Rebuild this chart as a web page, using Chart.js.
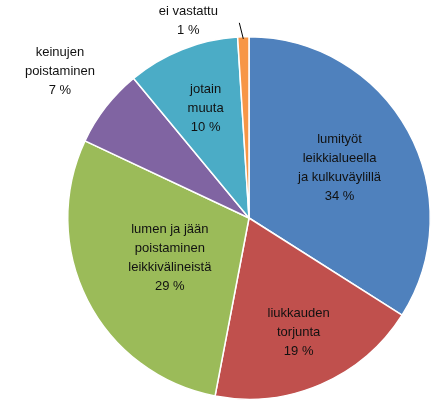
<!DOCTYPE html>
<html>
<head>
<meta charset="utf-8">
<script src="https://cdn.jsdelivr.net/npm/chart.js@4"></script>
<style>
  body { margin: 0; background: #fff; }
</style>
</head>
<body>
<canvas id="pie" width="442" height="406"></canvas>
<script>
// Chart values
const categories = [
    ["lumityöt", "leikkialueella", "ja kulkuväylillä"],
    ["liukkauden", "torjunta"],
    ["lumen ja jään", "poistaminen", "leikkivälineistä"],
    ["keinujen", "poistaminen"],
    ["jotain", "muuta"],
    ["ei vastattu"]
];
const shares = [34, 19, 29, 7, 10, 1];
const colors = ["#4F81BD", "#C0504D", "#9BBB59", "#8064A2", "#4BACC6", "#F79646"];

// label placement: fraction of radius along slice middle, extra shift
const labelPos = [
    { f: 0.57, dx: 0, dy: 0 },
    { f: 0.69, dx: 0, dy: 0 },
    { f: 0.49, dx: 0, dy: 0 },
    { f: 1.32, dx: 0, dy: 0 },
    { f: 0.65, dx: 0, dy: 0 },
    { f: 1.0, dx: -55, dy: -16, leader: true }
];

const pieLabels = {
    id: "pieLabels",
    afterDatasetsDraw(chart) {
        const ctx = chart.ctx;
        const arcs = chart.getDatasetMeta(0).data;
        ctx.save();
        ctx.font = "13px 'Liberation Sans', Arial, sans-serif";
        ctx.fillStyle = "#111";
        ctx.textAlign = "center";
        ctx.textBaseline = "middle";
        arcs.forEach((arc, i) => {
            const p = arc.getProps(["x", "y", "startAngle", "endAngle", "outerRadius"], true);
            const mid = (p.startAngle + p.endAngle) / 2;
            const r = p.outerRadius * labelPos[i].f;
            let x = p.x + Math.cos(mid) * r;
            let y = p.y + Math.sin(mid) * r;
            if (labelPos[i].leader) {
                ctx.strokeStyle = "#000";
                ctx.lineWidth = 1;
                ctx.beginPath();
                ctx.moveTo(x, y + 2);
                ctx.lineTo(x - 4, y - 14);
                ctx.stroke();
            }
            x += labelPos[i].dx;
            y += labelPos[i].dy;
            const lines = categories[i].concat([shares[i] + " %"]);
            const lh = 19;
            const top = y - (lines.length - 1) * lh / 2;
            lines.forEach((t, k) => ctx.fillText(t, x, top + k * lh));
        });
        ctx.restore();
    }
};

new Chart(document.getElementById("pie").getContext("2d"), {
    type: "pie",
    data: {
        labels: categories.map(c => c.join(" ")),
        datasets: [{
            data: shares,
            backgroundColor: colors,
            borderColor: "#fff",
            borderWidth: 1.5
        }]
    },
    options: {
        responsive: false,
        animation: false,
        layout: { padding: { left: 67, right: 11, top: 36, bottom: 6 } },
        plugins: { legend: { display: false }, tooltip: { enabled: false } }
    },
    plugins: [pieLabels]
});
</script>
</body>
</html>
